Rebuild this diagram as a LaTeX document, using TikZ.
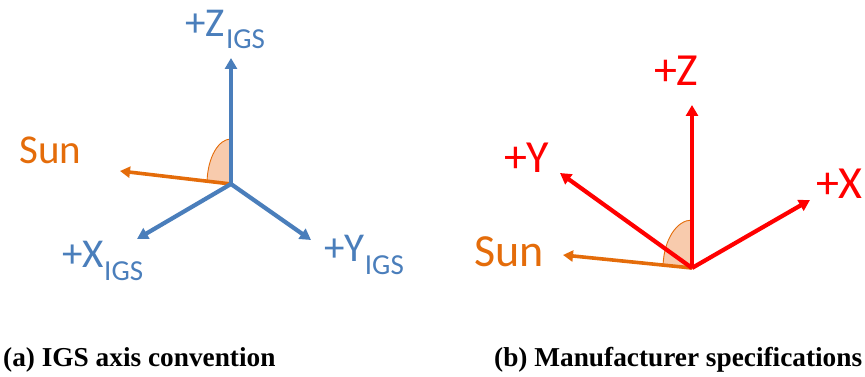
\documentclass[tikz,border=0pt]{standalone}
\usepackage{fontspec}
\setmainfont{Carlito}
\newfontfamily\capfamily{Liberation Serif}
\usetikzlibrary{arrows.meta}
\definecolor{axblue}{HTML}{4A7EBB}
\definecolor{sunorange}{HTML}{E46C0A}
\definecolor{wedgefill}{HTML}{F8CBAD}
\definecolor{axred}{HTML}{FF0000}
\newcommand\lblA{\fontsize{41}{41}\selectfont}
\newcommand\lblB{\fontsize{46}{46}\selectfont}
\newcommand\subf{\fontsize{29}{29}\selectfont}
\newcommand\capf{\capfamily\bfseries\fontsize{27.3}{30}\selectfont}
\tikzset{
  axarrow/.style={line width=4.2pt, -{Triangle[length=11pt,width=12pt]}},
  sunarrow/.style={line width=3.6pt, sunorange, -{Triangle[length=10pt,width=11pt]}},
  wedge/.style={fill=wedgefill, draw=sunorange, line width=0.9pt},
  lbl/.style={anchor=base west, inner sep=0pt, outer sep=0pt},
  captxt/.style={anchor=base west, inner sep=0pt, font=\capf}
}
\begin{document}
\begin{tikzpicture}[x=1pt,y=1pt]
\useasboundingbox (0,0) rectangle (865,377);
% ---------- (a) IGS ----------
\coordinate (Oa) at (231,193);
\coordinate (Za) at (231,319);
\coordinate (Xa) at (137,138);
\coordinate (Ya) at (311,137);
\coordinate (Sa) at (120,206);
\draw[wedge] (Oa) -- ++(0,45) arc[start angle=90, end angle=176, x radius=24, y radius=45] -- cycle;
\draw[sunarrow] (Oa) -- (Sa);
\draw[axarrow, axblue] (Oa) -- (Za);
\draw[axarrow, axblue] (Oa) -- (Xa);
\draw[axarrow, axblue] (Oa) -- (Ya);
\node[lbl, font=\lblA, text=axblue] (za) at (185.5,340) {+Z\kern1pt\raisebox{-12pt}{\subf IGS}};
\node[lbl, font=\lblA, text=axblue] (xa) at (62.5,109) {+X\kern0pt\raisebox{-13pt}{\subf IGS}};
\node[lbl, font=\lblA, text=axblue] (ya) at (324.5,115) {+Y\kern0pt\raisebox{-13pt}{\subf IGS}};
\node[lbl, font=\lblA, text=sunorange] (sa) at (19.5,213) {Sun};
% ---------- (b) Manufacturer ----------
\coordinate (Ob) at (692,109);
\coordinate (Zb) at (692,272);
\coordinate (Xb) at (810,177);
\coordinate (Yb) at (560,204);
\coordinate (Sb) at (563,122);
\draw[wedge] (Ob) -- ++(0,48) arc[start angle=90, end angle=176.5, x radius=29, y radius=48] -- cycle;
\draw[sunarrow] (Ob) -- (Sb);
\draw[axarrow, axred] (Ob) -- (Zb);
\draw[axarrow, axred] (Ob) -- (Xb);
\draw[axarrow, axred] (Ob) -- (Yb);
\node[lbl, font=\lblB, text=axred] (zb) at (654,291) {+Z};
\node[lbl, font=\lblB, text=axred] (xb) at (816,178) {+X};
\node[lbl, font=\lblB, text=axred] (yb) at (504,204) {+Y};
\node[lbl, font=\lblB, text=sunorange] (sb) at (474,110) {Sun};
% ---------- captions ----------
\node[captxt] (capa) at (3,10) {(a) IGS axis convention};
\node[captxt] (capb) at (494,10) {(b) Manufacturer specifications};
\end{tikzpicture}
\end{document}
